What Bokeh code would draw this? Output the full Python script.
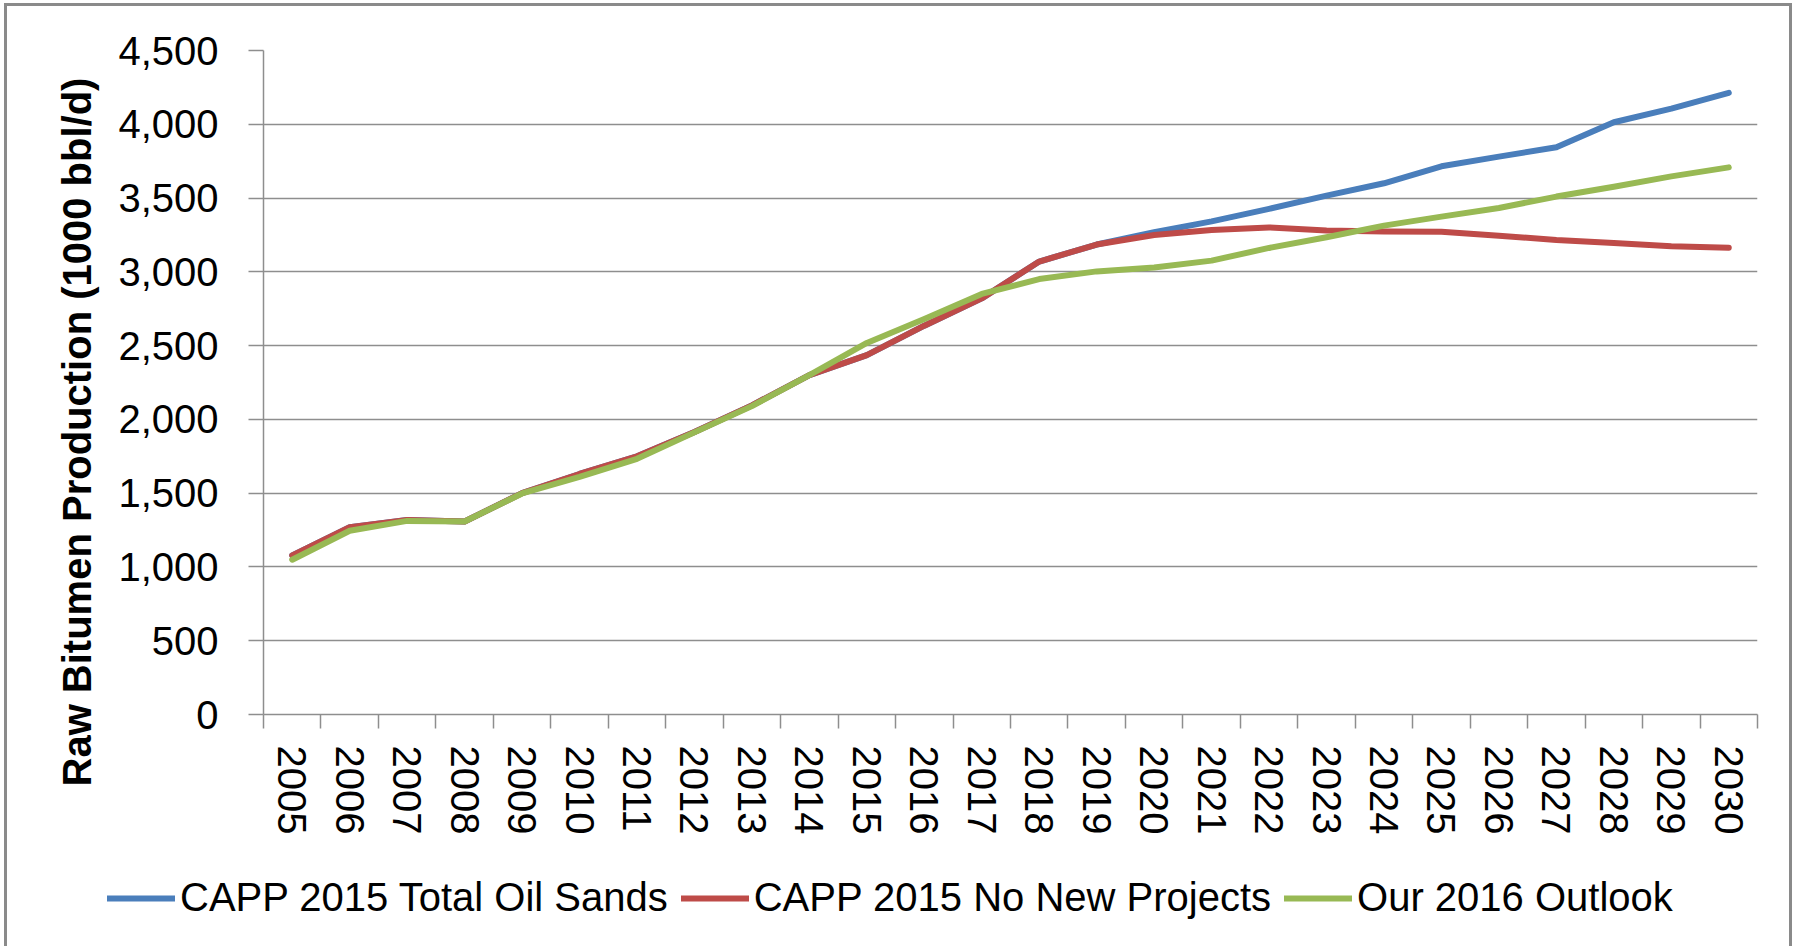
from bokeh.plotting import figure
from bokeh.layouts import column
from bokeh.models import (Range1d, FixedTicker, NumeralTickFormatter, Legend, LegendItem, Title)
from bokeh.embed import file_html
from bokeh.resources import INLINE

years = list(range(2005, 2031))
capp_total = [1078, 1270, 1318, 1308, 1500, 1630, 1750, 1915, 2095, 2300, 2435, 2635, 2820,
              3070, 3185, 3268, 3342, 3427, 3516, 3600, 3715, 3781, 3844, 4014, 4106, 4213]
capp_no_new = [1078, 1270, 1318, 1308, 1500, 1630, 1750, 1915, 2095, 2300, 2435, 2635, 2820,
               3070, 3185, 3250, 3284, 3301, 3280, 3274, 3272, 3245, 3216, 3196, 3173, 3164]
our_2016 = [1049, 1245, 1312, 1308, 1498, 1610, 1733, 1912, 2090, 2300, 2518, 2680, 2850,
            2951, 3003, 3030, 3076, 3162, 3234, 3313, 3374, 3433, 3510, 3577, 3647, 3708]
y_ticks = [0, 500, 1000, 1500, 2000, 2500, 3000, 3500, 4000, 4500]
series_names = ["CAPP 2015 Total Oil Sands", "CAPP 2015 No New Projects", "Our 2016 Outlook"]
colors = ["#4A7EBB", "#BE4B48", "#98B954"]
y_title = "Raw Bitumen Production (1000 bbl/d)"
series = [capp_total, capp_no_new, our_2016]

FONT = "Liberation Sans"
GRID = "#8e8e8e"
LW = 6

p = figure(frame_width=1494, frame_height=664,
           min_border_left=256, min_border_right=32, min_border_top=44, min_border_bottom=142,
           x_range=Range1d(years[0] - 0.5, years[-1] + 0.5),
           y_range=Range1d(y_ticks[0], y_ticks[-1]),
           output_backend="svg", toolbar_location=None)
p.frame_align = False
p.outline_line_color = None
p.background_fill_color = "white"
p.border_fill_color = "white"

p.xgrid.grid_line_color = None
p.ygrid.grid_line_color = GRID
p.ygrid.grid_line_width = 1.5

# y axis
p.yaxis.ticker = FixedTicker(ticks=y_ticks)
p.yaxis.formatter = NumeralTickFormatter(format="0,0")
p.yaxis.axis_line_color = GRID
p.yaxis.axis_line_width = 1.5
p.yaxis.major_tick_line_color = GRID
p.yaxis.major_tick_line_width = 1.5
p.yaxis.major_tick_out = 15
p.yaxis.major_tick_in = 0
p.yaxis.minor_tick_line_color = None
p.yaxis.major_label_standoff = 30
p.yaxis.major_label_text_font = FONT
p.yaxis.major_label_text_font_size = "40px"
p.yaxis.major_label_text_color = "black"

# y title in the left panel, shifted down like the reference
p.add_layout(Title(text=y_title, align="left", offset=-72, standoff=34,
                   text_font=FONT, text_font_size="40px", text_font_style="bold",
                   text_color="black"), "left")

# x axis: labels at category centres, tick marks between categories
p.xaxis.ticker = FixedTicker(ticks=years, minor_ticks=[y - 0.5 for y in years] + [years[-1] + 0.5])
p.xaxis.major_label_overrides = {y: str(y) for y in years}
p.xaxis.axis_line_color = GRID
p.xaxis.axis_line_width = 1.5
p.xaxis.major_tick_line_color = None
p.xaxis.major_tick_out = 0
p.xaxis.major_tick_in = 0
p.xaxis.minor_tick_line_color = GRID
p.xaxis.minor_tick_line_width = 1.5
p.xaxis.minor_tick_out = 14
p.xaxis.minor_tick_in = 0
p.xaxis.major_label_orientation = "vertical"
p.xaxis.major_label_standoff = 17
p.xaxis.major_label_text_font = FONT
p.xaxis.major_label_text_font_size = "40px"
p.xaxis.major_label_text_color = "black"

for vals, c in zip(series, colors):
    p.line(years, vals, line_color=c, line_width=LW, line_join="round", line_cap="round")

# legend strip: a frameless figure whose frame is the whole canvas; its series lie
# outside its y range so only the legend swatches show
lg = figure(width=1782, height=90, min_border=0, x_axis_location=None, y_axis_location=None,
            x_range=Range1d(years[0], years[-1]), y_range=Range1d(-2, -1),
            output_backend="svg", toolbar_location=None)
lg.frame_align = False
lg.outline_line_color = None
lg.grid.visible = False
lg.background_fill_color = "white"
lg.border_fill_color = "white"
lg_renderers = [lg.line(years, vals, line_color=c, line_width=LW, line_cap="round")
                for vals, c in zip(series, colors)]
legend = Legend(items=[LegendItem(label=n, renderers=[r]) for n, r in zip(series_names, lg_renderers)],
                orientation="horizontal", location=(100, 26),
                glyph_width=68, glyph_height=20, label_standoff=5, spacing=13,
                padding=0, margin=0,
                label_text_font=FONT, label_text_font_size="40px", label_text_color="black",
                border_line_alpha=0, background_fill_alpha=0)
lg.add_layout(legend, "center")

layout = column(p, lg, spacing=0,
                styles={"margin": "3px 0 0 4px",
                        "border-top": "3px solid #8a8a8a",
                        "border-left": "3px solid #8a8a8a",
                        "border-right": "3px solid #8a8a8a"})

open("out.html", "w").write(file_html(layout, INLINE))
